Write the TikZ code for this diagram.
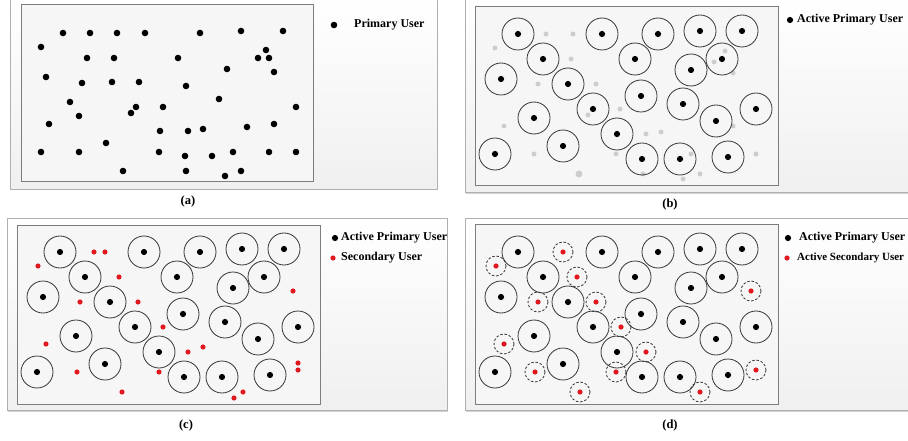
\documentclass[tikz,border=0pt]{standalone}
\usepackage{fontspec}
\setmainfont{Liberation Serif}
\usetikzlibrary{shadows}
\definecolor{frameGray}{RGB}{175,175,175}
\definecolor{boxGray}{RGB}{125,125,125}
\definecolor{ringGray}{RGB}{55,55,55}
\definecolor{idleGray}{RGB}{205,205,205}
\definecolor{suRed}{RGB}{225,25,30}

\newcommand{\allUsers}{63/33, 90/33, 117/33, 145/33, 200/33, 241/31, 283/31, 41/47, 266/50, 87/58, 114/58, 178/58, 258/58, 269/58, 227/69, 274/72, 46/77, 82/83, 112/82, 139/82, 186/86, 219/99, 70/102, 136/107, 163/107, 296/107, 131/113, 79/116, 49/124, 274/124, 247/127, 160/131, 188/131, 203/129, 106/143, 41/152, 79/152, 159/152, 185/156, 212/156, 233/152, 269/152, 296/152, 123/171, 186/171, 225/176, 241/171}
\newcommand{\activeUsers}{518/34, 602/34, 658/34, 700/31, 742/31, 543/59, 635/59, 722/59, 691/70, 501/79, 568/84, 641/96, 683/104, 593/109, 756/109, 534/118, 716/121, 617/134, 563/146, 495/154, 642/159, 680/159, 728/157}
\newcommand{\idleUsers}{546/34, 573/34, 495/48, 725/51, 571/59, 714/62, 733/73, 538/84, 596/84, 620/109, 588/115, 504/126, 733/126, 646/134, 661/132, 534/154, 616/154, 691/154, 756/154, 643/174, 700/174, 683/179}
\newcommand{\secUsers}{94/252, 105/252, 38/266, 119/277, 80/302, 138/302, 293/291, 163/327, 46/344, 188/352, 203/347, 77/372, 159/372, 298/363, 298/370, 122/392, 243/392, 234/398}
\newcommand{\activeSecUsers}{563/252, 496/266, 577/277, 538/302, 596/302, 751/291, 621/327, 504/344, 646/352, 535/372, 616/372, 756/370, 580/392, 700/392}

\begin{document}
\begin{tikzpicture}[x=1pt, y=-1pt,
      panel/.style={draw=frameGray, line width=0.8pt, top color=white, bottom color=gray!12, drop shadow={shadow xshift=1pt, shadow yshift=-1.5pt, opacity=0.35}},
      field/.style={draw=boxGray, line width=1pt, fill=gray!7},
      puring/.style={draw=ringGray, line width=0.8pt},
      suring/.style={draw=ringGray, line width=0.8pt, dash pattern=on 2.5pt off 1.8pt},
      legend/.style={anchor=west, inner sep=0pt, font=\bfseries\fontsize{12}{14}\selectfont},
      caption/.style={inner sep=0pt, font=\bfseries\fontsize{12.5}{14}\selectfont}]
      \useasboundingbox (0,0) rectangle (908,441);

      % panel frames
      \path[panel] (10,-2) rectangle (437,189);
      \path[panel] (465,-2) rectangle (914,192);
      \path[panel] (7,218) rectangle (447,410);
      \path[panel] (465,218) rectangle (914,410);
      \path[field] (21,5) rectangle (313,182);
      \path[field] (475,7) rectangle (778,186);
      \path[field] (17,225) rectangle (320,404);
      \path[field] (475,224) rectangle (778,404);

      % (a)
      \foreach \x/\y in \allUsers
        \fill (\x,\y) circle (3.3);
      \fill (334,25) circle (3.3);
      \node[legend] (pu-a) at (354,25) {Primary User};
      \node[caption] (cap-a) at (188,201) {(a)};

      % (b)
      \foreach \x/\y in \idleUsers
        \fill[idleGray] (\x,\y) circle (2.5);
      \fill[idleGray] (579,174) circle (3.5);
      \foreach \x/\y in \activeUsers {
        \draw[puring] (\x,\y) circle (16);
        \fill (\x,\y) circle (3.1);
      }
      \fill (790,20) circle (3.1);
      \node[legend] (pu-b) at (797,20) {Active Primary User};
      \node[caption] (cap-b) at (670,204) {(b)};

      % (c)
      \begin{scope}[shift={(-458,218)}]
        \foreach \x/\y in \activeUsers {
          \draw[puring] (\x,\y) circle (16);
          \fill (\x,\y) circle (3.1);
        }
      \end{scope}
      \foreach \x/\y in \secUsers
        \fill[suRed] (\x,\y) circle (2.6);
      \fill (335,238) circle (3.1);
      \fill[suRed] (333,258) circle (2.6);
      \node[legend] (pu-c) at (341,238) {Active Primary User};
      \node[legend] (su-c) at (341,258) {Secondary User};
      \node[caption] (cap-c) at (186,425) {(c)};

      % (d)
      \begin{scope}[shift={(0,218)}]
        \foreach \x/\y in \activeUsers {
          \draw[puring] (\x,\y) circle (16);
          \fill (\x,\y) circle (3.1);
        }
      \end{scope}
      \foreach \x/\y in \activeSecUsers {
        \draw[suring] (\x,\y) circle (10);
        \fill[suRed] (\x,\y) circle (2.6);
      }
      \fill (788,238) circle (3.1);
      \fill[suRed] (787,258) circle (2.6);
      \node[legend] (pu-d) at (799,238) {Active Primary User};
      \node[legend, font=\bfseries\fontsize{11}{13}\selectfont] (su-d) at (797,258) {Active Secondary User};
      \node[caption] (cap-d) at (670,425) {(d)};
\end{tikzpicture}
\end{document}
